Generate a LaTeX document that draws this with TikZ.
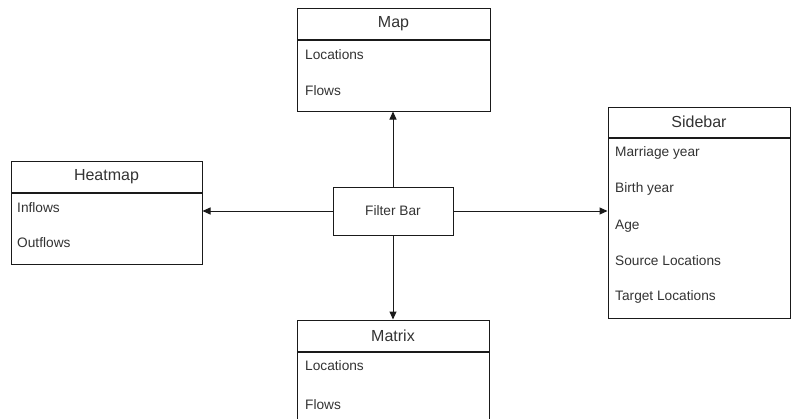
\documentclass[tikz,border=0pt]{standalone}
\usepackage{fontspec}
\setmainfont{Liberation Sans}
\usetikzlibrary{arrows.meta}
\definecolor{ln}{HTML}{1A1A1A}
\definecolor{tx}{HTML}{333333}
\tikzset{
  hdr/.style={draw=ln, line width=1pt, fill=white, inner sep=0pt, font=\fontsize{16}{18}\selectfont, text=tx},
  bodybox/.style={draw=ln, line width=1pt, fill=white, inner sep=0pt, anchor=north},
  item/.style={anchor=west, inner sep=0pt, font=\fontsize{13.7}{15}\selectfont, text=tx},
  conn/.style={draw=ln, line width=1pt, -{Triangle[length=8pt,width=7pt]}}
}
\begin{document}
\begin{tikzpicture}[x=1pt,y=-1pt]
\useasboundingbox (0,0) rectangle (792,418);
\clip (0,0) rectangle (792,418);
\fill[white] (0,0) rectangle (792,418);
% Map
\node[hdr, minimum width=193pt, minimum height=31pt] (maph) at (393.5,23.5) {Map};
\node[bodybox, minimum width=193pt, minimum height=71pt] (mapb) at (maph.south) {};
\node[item] (map1) at (305,55) {Locations};
\node[item] (map2) at (305,91) {Flows};
% Heatmap
\node[hdr, minimum width=191pt, minimum height=31pt] (heath) at (106.5,176.5) {Heatmap};
\node[bodybox, minimum width=191pt, minimum height=71pt] (heatb) at (heath.south) {};
\node[item] (heat1) at (17,208) {Inflows};
\node[item] (heat2) at (17,243) {Outflows};
% Sidebar
\node[hdr, minimum width=182pt, minimum height=30pt] (sideh) at (699,122) {Sidebar};
\node[bodybox, minimum width=182pt, minimum height=180pt] (sideb) at (sideh.south) {};
\node[item] (side1) at (615,153) {Marriage year};
\node[item] (side2) at (615,189) {Birth year};
\node[item] (side3) at (615,226) {Age};
\node[item] (side4) at (615,261) {Source Locations};
\node[item] (side5) at (615,297) {Target Locations};
% Matrix
\node[hdr, minimum width=192pt, minimum height=31pt] (math) at (393,335.5) {Matrix};
\node[bodybox, minimum width=192pt, minimum height=75pt] (matb) at (math.south) {};
\node[item] (mat1) at (305,366) {Locations};
\node[item] (mat2) at (305,405) {Flows};
% Filter bar
\node[draw=ln, line width=1pt, fill=white, minimum width=120pt, minimum height=48pt, inner sep=0pt, font=\fontsize{13.7}{15}\selectfont, text=tx] (filter) at (393,211) {Filter Bar};
% connectors
\draw[conn] (filter.north) -- (filter.north |- mapb.south);
\draw[conn] (filter.south) -- (filter.south |- math.north);
\draw[conn] (filter.west) -- (filter.west -| heatb.east);
\draw[conn] (filter.east) -- (filter.east -| sideb.west);
\end{tikzpicture}
\end{document}
